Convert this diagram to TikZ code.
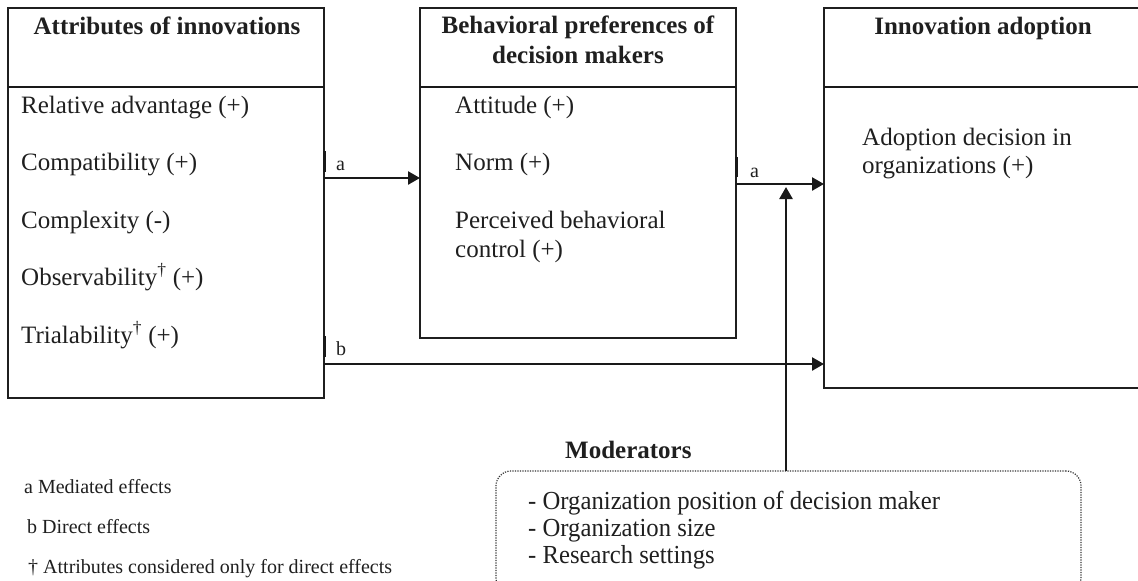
\documentclass[tikz,border=0pt]{standalone}
\usepackage{fontspec}
\setmainfont{Liberation Serif}
\newfontfamily\condfont[FakeStretch=0.95]{Liberation Serif}
\usetikzlibrary{arrows.meta}
\tikzset{
  box/.style={draw=black!88, line width=1.4pt, inner sep=0pt, outer sep=0pt, anchor=north west},
  divider/.style={draw=black!90, line width=2pt},
  arr/.style={draw=black!90, line width=2.5pt, -{Triangle[length=12pt,width=13pt]}},
  tickbar/.style={draw=black!90, line width=3pt},
  body/.style={anchor=base west, inner sep=0pt, text=black!88, font=\fontsize{25}{30}\selectfont},
  ttl/.style={anchor=base, inner sep=0pt, text=black!88, font=\bfseries\fontsize{25}{30}\selectfont},
  small/.style={anchor=base west, inner sep=0pt, text=black!88, font=\fontsize{20}{24}\selectfont},
  modtext/.style={anchor=base west, inner sep=0pt, text=black!88, font=\condfont\fontsize{26}{27}\selectfont},
  modbox/.style={draw=black!80, line width=1.2pt, dash pattern=on 1.2pt off 1.3pt, rounded corners=15pt, inner sep=0pt, outer sep=0pt, anchor=north west},
}
\begin{document}
\begin{tikzpicture}[x=1pt, y=-1pt]
\useasboundingbox (0,0) rectangle (1138,581);

% boxes
\node[box, minimum width=316pt, minimum height=390pt] (A) at (8,8) {};
\node[box, minimum width=316pt, minimum height=330pt] (B) at (420,8) {};
\node[box, minimum width=330pt, minimum height=380pt] (C) at (824,8) {};
\node[modbox, minimum width=585pt, minimum height=122pt] (M) at (496,471) {};

% dividers
\draw[divider] (A.west |- 0,87) -- (A.east |- 0,87);
\draw[divider] (B.west |- 0,87) -- (B.east |- 0,87);
\draw[divider] (C.west |- 0,87) -- (C.east |- 0,87);

% titles
\node[ttl] (At) at (167,34) {Attributes of innovations};
\node[ttl] (Bt1) at (578,33) {Behavioral preferences of};
\node[ttl] (Bt2) at (578,63) {decision makers};
\node[ttl] (Ct) at (983,34) {Innovation adoption};

% box A items
\node[body] (a1) at (21,113) {Relative advantage (+)};
\node[body] (a2) at (21,170) {Compatibility (+)};
\node[body] (a3) at (21,228) {Complexity (-)};
\node[body] (a4) at (21,285) {Observability\textsuperscript{\dag} (+)};
\node[body] (a5) at (21,343) {Trialability\textsuperscript{\dag} (+)};

% box B items
\node[body] (b1) at (455,113) {Attitude (+)};
\node[body] (b2) at (455,170) {Norm (+)};
\node[body] (b3) at (455,228) {Perceived behavioral};
\node[body] (b4) at (455,257) {control (+)};

% box C items
\node[body] (c1) at (862,145) {Adoption decision in};
\node[body] (c2) at (862,173) {organizations (+)};

% moderators
\node[ttl, anchor=base west] (Mt) at (565,458) {Moderators};
\node[modtext] (m1) at (528,509) {- Organization position of decision maker};
\node[modtext] (m2) at (528,536) {- Organization size};
\node[modtext] (m3) at (528,563) {- Research settings};

% footnotes
\node[small] (f1) at (24,493) {a Mediated effects};
\node[small] (f2) at (27,533) {b Direct effects};
\node[small] (f3) at (28,573) {\dag\ Attributes considered only for direct effects};

% connectors
\coordinate (ya1) at (0,178);
\coordinate (ya2) at (0,184);
\coordinate (yb) at (0,364);
\coordinate (modtip) at (786,187);

\draw[arr] (A.east |- ya1) -- (B.west |- ya1);
\draw[arr] (B.east |- ya2) -- (C.west |- ya2);
\draw[arr] (A.east |- yb) -- (C.west |- yb);
\draw[arr] (M.north -| modtip) -- (modtip);

% ticks
\draw[tickbar] (A.east |- 0,151) -- (A.east |- 0,172);
\draw[tickbar] (B.east |- 0,157) -- (B.east |- 0,177);
\draw[tickbar] (A.east |- 0,336) -- (A.east |- 0,357);

% arrow labels
\node[small] (la1) at (336,170) {a};
\node[small] (la2) at (750,177) {a};
\node[small] (lb) at (336,355) {b};
\end{tikzpicture}
\end{document}
